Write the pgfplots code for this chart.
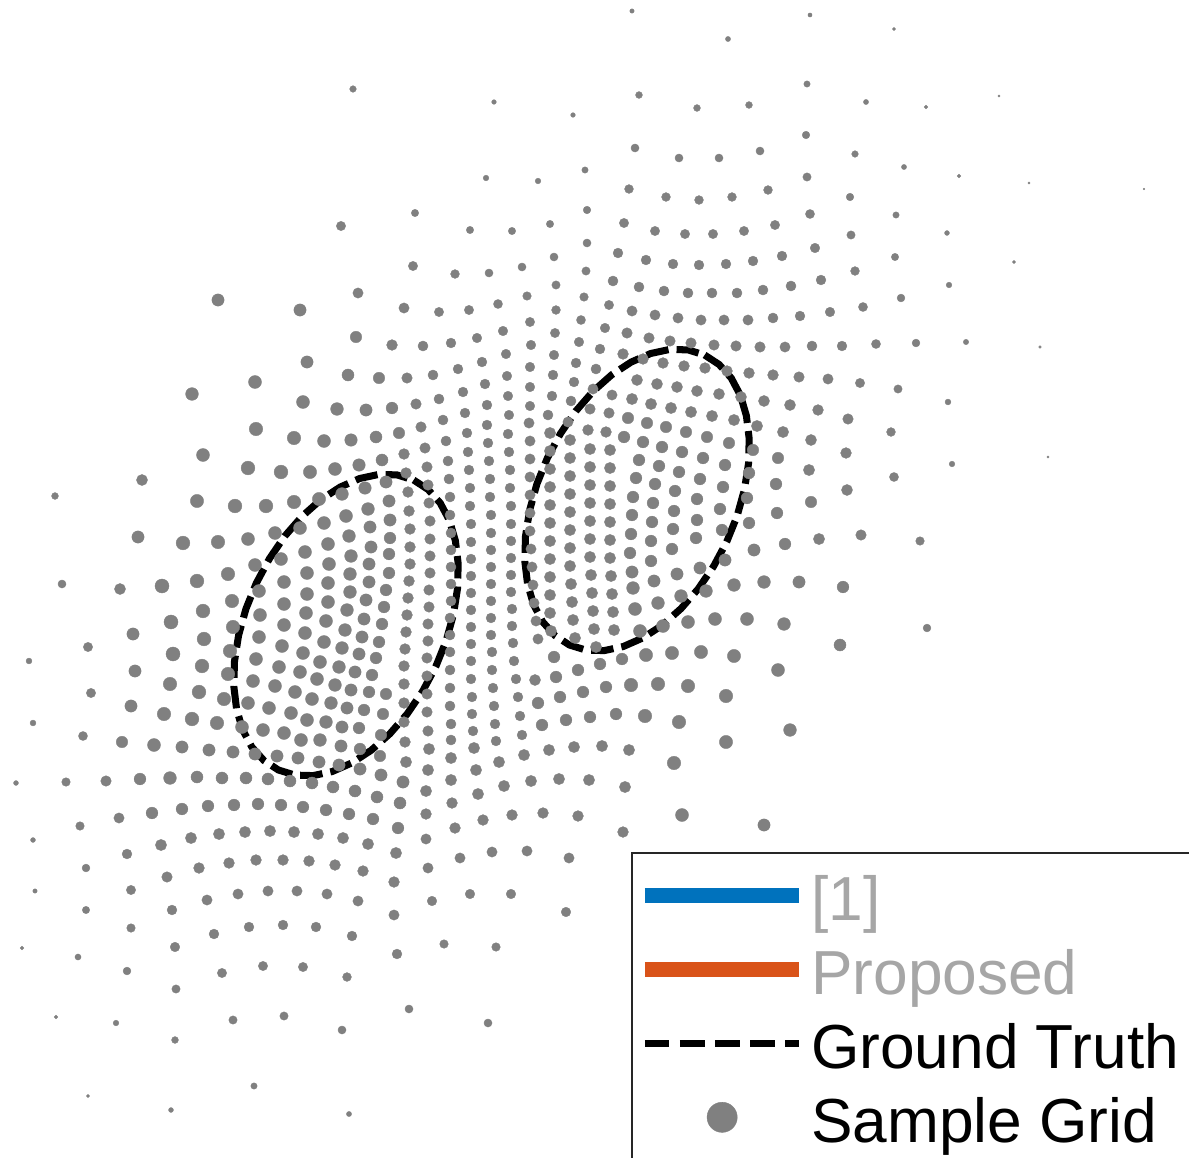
\documentclass[border=0pt]{standalone}
\usepackage{fontspec}
\setmainfont{Liberation Sans}
\usepackage{pgfplots}
\usepackage{pgfplotstable}
\pgfplotsset{compat=1.18}

\definecolor{dotgray}{RGB}{128,128,128}
\definecolor{mblue}{RGB}{0,114,189}
\definecolor{morange}{RGB}{217,83,25}
\definecolor{legtext}{RGB}{166,166,166}
\definecolor{legframe}{RGB}{38,38,38}

\pgfplotsset{
  linelegend/.style={legend image code/.code={\draw[##1] (0pt,0pt) -- (44pt,0pt);}},
  dotlegend/.style={legend image code/.code={\draw[mark repeat=2, mark phase=2, ##1]
    plot coordinates {(0pt,0pt) (22pt,0pt) (44pt,0pt)};}},
}

% sample grid: position (x, y) and dot radius r
\pgfplotstableread[row sep=\\]{
x y r\\
% upper left
353 89 2.7\\ 494 102 1.9\\ 573 115 1.9\\ 486 178 2.3\\ 538 181 2.3\\ 585 170 2.6\\
415 213 3.0\\ 341 226 3.8\\ 470 230 3.0\\ 512 231 3.0\\ 550 224 3.0\\ 587 210 3.1\\
587 243 3.3\\ 554 257 3.3\\ 413 266 3.8\\ 455 274 3.6\\ 489 273 3.3\\ 522 267 3.3\\
586 271 3.4\\ 556 285 3.4\\ 218 300 5.0\\ 358 293 4.2\\ 527 296 3.5\\ 584 297 3.5\\
142 480 4.5\\ 55 496 2.8\\ 138 537 5.0\\
% upper right
632 11 1.8\\ 810 15 1.7\\ 894 29 1.3\\ 728 39 2.1\\ 639 95 2.8\\ 807 84 2.6\\
866 102 2.1\\ 926 107 1.5\\ 999 96 1.0\\ 697 108 2.8\\ 749 105 2.8\\
635 148 3.3\\ 679 158 3.3\\ 719 158 3.3\\ 760 151 3.3\\ 806 135 3.1\\ 855 154 2.7\\
904 167 2.1\\ 959 176 1.5\\ 1029 183 1.0\\ 1144 189 0.7\\
629 189 3.6\\ 666 197 3.6\\ 699 200 3.6\\ 732 197 3.6\\ 768 190 3.6\\ 807 177 3.4\\
850 197 3.1\\ 896 215 2.6\\ 947 233 2.0\\ 1014 262 1.4\\
624 223 3.8\\ 655 231 3.8\\ 685 234 3.8\\ 713 234 3.8\\ 744 231 3.8\\ 775 225 3.8\\
810 214 3.7\\ 851 235 3.4\\ 895 257 3.0\\ 949 285 2.3\\
618 253 4.0\\ 646 260 4.0\\ 673 264 4.0\\ 699 265 4.0\\ 726 264 4.0\\ 753 261 4.0\\
782 256 4.0\\ 815 248 3.9\\ 855 271 3.6\\ 901 298 3.2\\
613 281 4.1\\ 639 287 4.1\\ 664 291 4.1\\ 688 293 4.1\\ 712 293 4.1\\ 737 293 4.1\\
763 290 4.1\\ 791 286 4.1\\ 821 280 4.0\\
863 307 3.7\\ 876 344 3.7\\ 916 343 3.2\\ 966 342 2.2\\ 1040 347 1.1\\
860 383 3.8\\ 898 389 3.4\\ 948 402 2.4\\ 891 432 3.6\\ 952 464 2.3\\ 1048 457 0.9\\
894 477 3.7\\ 920 541 3.5\\ 861 535 4.3\\
% left, above the first ellipse
300 310 5.0\\ 404 308 4.2\\ 356 337 4.7\\ 392 345 4.4\\ 307 362 5.0\\ 348 375 4.9\\
379 378 4.7\\ 255 382 5.3\\ 192 394 5.2\\ 303 402 5.3\\ 337 409 5.2\\ 366 410 5.0\\
392 408 4.8\\ 256 429 5.5\\ 294 438 5.5\\ 324 441 5.3\\ 351 440 5.1\\ 376 437 4.9\\
399 433 4.7\\ 203 455 5.3\\ 248 468 5.6\\ 281 472 5.6\\ 310 472 5.4\\ 335 469 5.3\\
359 465 5.1\\ 382 460 4.9\\ 197 501 5.4\\ 235 506 5.6\\ 266 506 5.6\\ 294 502 5.5\\
319 499 5.4\\ 342 494 5.2\\ 365 488 5.1\\ 386 482 5.0\\ 389 501 5.0\\ 368 509 5.2\\
346 516 5.3\\ 390 520 5.0\\
% upper centre
439 312 3.8\\ 469 310 3.8\\ 498 304 3.7\\ 556 310 3.6\\ 581 320 3.7\\ 609 305 3.8\\
530 322 3.8\\ 503 331 3.9\\ 477 338 3.9\\ 451 343 4.0\\ 423 346 4.1\\ 555 333 3.8\\
605 328 3.9\\ 579 342 3.9\\ 531 345 3.9\\ 506 354 3.9\\ 482 362 4.0\\ 458 369 4.0\\
433 375 4.1\\ 407 378 4.3\\ 554 355 3.9\\ 600 349 4.0\\ 576 363 4.0\\ 530 367 3.9\\
507 376 3.9\\ 485 384 4.0\\ 463 392 4.0\\ 439 399 4.1\\ 416 404 4.3\\ 553 375 4.0\\
596 369 4.1\\ 574 382 4.0\\ 530 387 3.9\\ 508 396 3.9\\ 487 405 4.0\\ 465 413 4.0\\
443 420 4.1\\ 421 427 4.3\\ 552 396 4.0\\ 593 389 4.2\\ 612 395 4.2\\ 571 401 4.1\\
530 406 3.9\\ 509 415 3.9\\ 487 425 4.0\\ 467 433 4.0\\ 446 441 4.1\\ 425 448 4.3\\
548 415 4.1\\ 590 409 4.3\\ 609 413 4.3\\ 568 422 4.2\\ 588 430 4.4\\ 606 432 4.4\\
% centre columns
404 454 4.4\\ 406 473 4.4\\ 408 492 4.4\\ 409 511 4.4\\ 410 529 4.4\\ 410 547 4.4\\
410 564 4.4\\ 409 581 4.4\\ 408 598 4.4\\ 407 615 4.4\\ 406 632 4.4\\ 405 649 4.4\\
404 666 4.4\\ 404 684 4.4\\ 404 703 4.4\\ 404 722 4.4\\ 405 742 4.4\\
427 467 4.3\\ 428 485 4.3\\ 429 503 4.3\\ 430 521 4.3\\ 430 539 4.3\\ 430 556 4.3\\
430 573 4.3\\ 429 590 4.3\\ 429 607 4.3\\ 428 624 4.3\\ 428 641 4.3\\ 427 658 4.3\\
427 676 4.3\\ 427 694 4.3\\ 427 712 4.3\\ 428 731 4.3\\
448 461 4.1\\ 449 479 4.1\\ 450 497 4.1\\ 450 515 4.1\\ 451 533 4.1\\ 451 550 4.1\\
451 567 4.1\\ 451 584 4.1\\ 451 601 4.1\\ 450 618 4.1\\ 450 635 4.1\\ 450 652 4.1\\
450 670 4.1\\ 450 688 4.1\\ 450 706 4.1\\ 451 724 4.1\\ 451 740 4.1\\
468 452 4.0\\ 469 470 4.0\\ 470 488 4.0\\ 470 506 4.0\\ 471 524 4.0\\ 471 542 4.0\\
471 559 4.0\\ 471 576 4.0\\ 471 593 4.0\\ 471 610 4.0\\ 471 627 4.0\\ 471 644 4.0\\
471 661 4.0\\ 471 679 4.0\\ 472 697 4.0\\ 472 714 4.0\\ 473 731 4.0\\
488 443 4.0\\ 489 461 4.0\\ 490 479 4.0\\ 490 497 4.0\\ 491 515 4.0\\ 491 533 4.0\\
491 550 4.0\\ 491 567 4.0\\ 491 584 4.0\\ 491 601 4.0\\ 491 618 4.0\\ 491 635 4.0\\
492 652 4.0\\ 492 670 4.0\\ 493 688 4.0\\ 494 706 4.0\\ 495 724 4.0\\ 496 741 4.0\\
508 434 4.0\\ 509 452 4.0\\ 510 470 4.0\\ 510 488 4.0\\ 511 506 4.0\\ 511 524 4.0\\
511 541 4.0\\ 511 558 4.0\\ 511 575 4.0\\ 511 592 4.0\\ 512 609 4.0\\ 512 626 4.0\\
513 643 4.0\\ 514 661 4.0\\ 516 679 4.0\\ 518 697 4.0\\ 520 716 4.0\\ 522 735 4.0\\
529 423 4.2\\ 530 441 4.2\\ 530 459 4.2\\ 530 477 4.2\\ 530 495 4.2\\ 530 513 4.2\\
530 531 4.2\\ 531 549 4.2\\ 532 567 4.2\\ 533 585 4.2\\ 534 603 4.2\\ 536 621 4.2\\
538 639 4.2\\ 535 680 4.5\\
% inside the second ellipse, lower left
550 433 4.6\\ 550 451 4.6\\ 550 469 4.6\\ 550 487 4.6\\ 550 505 4.6\\ 550 523 4.6\\
550 541 4.6\\ 550 559 4.6\\ 550 577 4.6\\ 550 595 4.6\\ 550 613 4.6\\ 551 631 4.6\\
570 440 4.6\\ 570 458 4.6\\ 570 476 4.6\\ 570 494 4.6\\ 570 512 4.6\\ 570 530 4.6\\
570 548 4.6\\ 570 566 4.6\\ 571 584 4.6\\ 572 602 4.6\\ 573 620 4.6\\ 575 638 4.6\\
590 449 4.6\\ 590 467 4.6\\ 590 485 4.6\\ 590 503 4.6\\ 590 521 4.6\\ 590 539 4.6\\
590 557 4.6\\ 591 575 4.6\\ 592 593 4.6\\ 593 611 4.6\\ 594 629 4.6\\ 596 647 4.6\\
610 450 4.6\\ 610 468 4.6\\ 610 486 4.6\\ 610 504 4.6\\ 610 522 4.6\\ 610 540 4.6\\
610 558 4.6\\ 611 576 4.6\\ 612 594 4.6\\ 613 612 4.6\\ 614 630 4.6\\
% below the second ellipse
554 657 4.8\\ 578 670 4.8\\ 600 664 4.8\\ 622 659 4.8\\ 556 677 4.8\\ 583 692 4.8\\
606 687 4.8\\ 538 703 4.8\\ 560 697 4.8\\ 566 720 4.8\\ 590 717 4.8\\ 616 714 4.8\\
542 725 4.8\\
% inside the first ellipse
183 543 5.6\\ 197 581 5.6\\ 203 611 5.6\\ 204 639 5.6\\ 202 666 5.6\\ 199 692 5.6\\ 192 719 5.6\\
218 542 5.5\\ 228 574 5.5\\ 232 601 5.5\\ 233 627 5.5\\ 230 651 5.5\\ 228 674 5.5\\
224 699 5.5\\ 217 723 5.5\\
248 539 5.3\\ 255 565 5.3\\ 259 591 5.3\\ 260 615 5.3\\ 259 637 5.3\\ 256 659 5.3\\
253 681 5.3\\ 248 703 5.3\\ 242 727 5.3\\
275 533 5.3\\ 281 559 5.3\\ 284 582 5.3\\ 284 604 5.3\\ 284 625 5.3\\ 282 646 5.3\\
279 667 5.3\\ 275 686 5.3\\ 269 708 5.3\\ 263 730 5.3\\
300 528 5.3\\ 305 552 5.3\\ 307 573 5.3\\ 307 594 5.3\\ 306 613 5.3\\ 305 633 5.3\\
303 653 5.3\\ 300 672 5.3\\ 295 692 5.3\\ 291 713 5.3\\ 284 733 5.3\\
324 523 5.3\\ 328 544 5.3\\ 329 564 5.3\\ 328 583 5.3\\ 328 602 5.3\\ 326 621 5.3\\
324 642 5.3\\ 320 662 5.3\\ 317 679 5.3\\ 312 699 5.3\\ 307 720 5.3\\ 301 740 5.3\\
349 536 5.2\\ 351 556 5.2\\ 350 574 5.2\\ 350 592 5.2\\ 347 610 5.2\\ 345 630 5.2\\
342 648 5.2\\ 339 667 5.2\\ 335 685 5.2\\ 331 703 5.2\\ 326 722 5.2\\ 320 740 5.2\\
370 527 5.0\\ 371 547 5.0\\ 369 564 5.0\\ 369 582 5.0\\ 366 600 5.0\\ 364 619 5.0\\
362 637 5.0\\ 359 654 5.0\\ 355 672 5.0\\ 351 690 5.0\\ 347 708 5.0\\ 342 727 5.0\\ 341 746 5.0\\
390 538 4.8\\ 389 554 4.8\\ 389 573 4.8\\ 386 590 4.8\\ 384 607 4.8\\ 382 624 4.8\\
379 642 4.8\\ 376 658 4.8\\ 372 675 4.8\\ 369 692 4.8\\ 364 710 4.8\\ 359 728 4.8\\ 360 749 4.8\\
386 694 4.7\\ 383 714 4.7\\ 381 735 4.7\\ 380 756 4.7\\
% lower left rows
182 747 5.0\\ 209 750 5.0\\ 233 752 5.0\\ 255 754 5.0\\ 277 756 5.0\\ 298 758 5.0\\
319 762 5.0\\ 339 765 5.0\\ 360 769 5.0\\ 381 775 5.0\\ 403 782 5.0\\
197 777 4.9\\ 222 778 4.9\\ 246 778 4.9\\ 268 779 4.9\\ 290 781 4.9\\ 312 783 4.9\\
333 787 4.9\\ 355 791 4.9\\ 377 797 4.9\\ 400 803 4.9\\
182 809 4.8\\ 208 806 4.8\\ 234 805 4.8\\ 258 804 4.8\\ 281 805 4.8\\ 303 807 4.8\\
326 810 4.8\\ 349 814 4.8\\ 373 819 4.8\\ 398 828 4.8\\
191 838 4.6\\ 219 834 4.6\\ 245 832 4.6\\ 270 831 4.6\\ 294 832 4.6\\ 318 834 4.6\\
343 838 4.6\\ 368 844 4.6\\ 396 853 4.6\\
199 868 4.4\\ 229 863 4.4\\ 256 860 4.4\\ 283 860 4.4\\ 309 861 4.4\\ 335 865 4.4\\
363 871 4.4\\ 394 882 4.4\\
207 900 4.2\\ 238 894 4.2\\ 268 891 4.2\\ 297 891 4.2\\ 327 894 4.2\\ 358 901 4.2\\ 394 915 4.2\\
214 934 4.0\\ 249 927 4.0\\ 283 925 4.0\\ 316 927 4.0\\ 352 936 4.0\\ 397 954 4.0\\
263 966 3.8\\ 303 967 3.8\\
% lower centre
429 749 4.6\\ 474 748 4.6\\ 406 762 4.6\\ 451 758 4.6\\ 499 762 4.6\\ 524 755 4.6\\
549 750 4.6\\ 574 747 4.6\\ 602 746 4.6\\ 629 750 4.6\\ 428 770 4.6\\ 476 770 4.6\\
451 780 4.6\\ 504 786 4.6\\ 531 781 4.6\\ 559 779 4.6\\ 589 780 4.6\\ 625 787 4.6\\
426 791 4.6\\ 478 794 4.6\\ 452 803 4.4\\ 426 814 4.4\\ 483 820 4.4\\ 512 815 4.4\\
543 813 4.4\\ 578 816 4.4\\ 623 832 4.4\\ 455 828 4.4\\ 426 839 4.2\\ 460 858 4.2\\
492 852 4.2\\ 527 851 4.2\\ 569 858 4.2\\ 428 868 4.2\\ 470 894 3.9\\ 511 894 3.9\\
432 901 3.9\\ 566 912 3.9\\ 444 944 3.5\\ 496 947 3.5\\
% inside the second ellipse
632 311 4.2\\ 655 315 4.2\\ 678 318 4.2\\ 701 320 4.2\\ 724 320 4.2\\ 748 320 4.2\\
773 318 4.1\\ 800 316 4.0\\ 830 312 3.9\\
627 333 4.3\\ 649 338 4.3\\ 670 341 4.3\\ 691 343 4.3\\ 714 345 4.3\\ 736 346 4.3\\
760 347 4.3\\ 785 347 4.2\\ 812 346 4.1\\ 842 346 4.0\\
623 354 4.4\\ 643 359 4.4\\ 663 363 4.4\\ 684 366 4.4\\ 705 368 4.4\\ 727 371 4.4\\
749 373 4.4\\ 773 375 4.4\\ 799 377 4.3\\ 828 379 4.2\\
637 380 4.5\\ 657 384 4.5\\ 677 387 4.5\\ 697 391 4.5\\ 719 394 4.5\\ 741 397 4.5\\
764 401 4.5\\ 790 405 4.5\\ 818 410 4.4\\ 848 419 4.3\\
632 399 4.6\\ 651 404 4.6\\ 671 408 4.6\\ 691 412 4.6\\ 712 416 4.6\\ 734 420 4.6\\
757 426 4.6\\ 783 432 4.6\\ 811 440 4.5\\ 846 453 4.4\\
628 418 4.7\\ 647 423 4.7\\ 666 427 4.7\\ 686 432 4.7\\ 707 437 4.7\\ 729 443 4.7\\
753 450 4.7\\ 778 458 4.7\\ 809 470 4.6\\ 847 490 4.5\\
624 437 4.8\\ 643 442 4.8\\ 662 447 4.8\\ 682 452 4.8\\ 703 458 4.8\\ 725 465 4.8\\
749 473 4.8\\ 776 484 4.8\\ 811 502 4.7\\
639 460 4.8\\ 659 466 4.8\\ 679 472 4.8\\ 700 479 4.8\\ 723 487 4.8\\ 747 498 4.8\\ 777 513 4.8\\
636 478 4.8\\ 655 484 4.8\\ 675 491 4.8\\ 697 499 4.8\\ 720 509 4.8\\ 749 523 4.8\\
633 497 4.8\\ 653 503 4.8\\ 674 511 4.8\\ 697 520 4.8\\ 722 530 4.8\\
632 515 4.8\\ 652 522 4.8\\ 673 529 4.8\\ 696 538 4.8\\
631 534 4.8\\ 651 541 4.8\\ 672 549 4.8\\ 630 553 4.8\\ 651 561 4.8\\
% right, below the second ellipse
632 572 5.0\\ 654 581 5.0\\ 677 574 5.0\\ 700 568 5.0\\ 725 560 5.0\\ 754 550 5.0\\
785 544 4.8\\ 819 539 4.6\\ 633 588 5.2\\ 658 603 5.2\\ 681 596 5.2\\ 706 591 5.2\\
734 585 5.2\\ 764 582 5.2\\ 799 582 5.0\\ 843 587 4.8\\ 635 609 5.3\\ 640 631 5.3\\
663 626 5.3\\ 688 622 5.3\\ 715 619 5.3\\ 747 619 5.3\\ 784 624 5.2\\ 840 645 4.9\\
927 628 3.2\\ 646 655 5.4\\ 672 653 5.4\\ 701 652 5.4\\ 734 656 5.4\\ 778 670 5.3\\
631 685 5.5\\ 658 684 5.5\\ 688 686 5.5\\ 726 696 5.5\\ 645 716 5.5\\ 679 722 5.5\\
726 742 5.4\\ 790 730 5.2\\ 674 763 5.5\\ 682 815 5.3\\ 764 825 5.0\\
% lower left periphery
62 584 3.3\\ 120 589 4.5\\ 162 586 5.7\\ 88 647 3.8\\ 29 661 2.4\\ 133 634 5.0\\
171 622 5.7\\ 135 671 5.0\\ 173 654 5.7\\ 91 693 3.8\\ 170 684 5.5\\ 131 706 5.0\\
33 723 2.4\\ 164 714 5.5\\ 83 736 3.7\\ 122 742 4.7\\ 154 745 5.3\\ 16 783 2.0\\
66 782 3.5\\ 106 781 4.3\\ 140 779 4.8\\ 170 778 5.2\\ 80 826 3.5\\ 119 818 4.2\\
152 813 4.8\\ 33 840 2.0\\ 127 854 4.0\\ 161 845 4.6\\ 86 868 3.2\\ 167 877 4.3\\
35 891 1.8\\ 131 890 3.8\\ 86 910 3.0\\ 172 910 4.0\\ 131 928 3.5\\ 22 948 1.5\\
78 957 2.5\\ 127 971 3.2\\ 175 947 3.9\\ 176 989 3.4\\ 222 973 3.8\\ 347 977 3.6\\
56 1017 1.6\\ 116 1023 2.3\\ 175 1040 2.8\\ 233 1020 3.4\\ 284 1016 3.4\\ 342 1030 3.3\\
409 1009 3.3\\ 488 1023 3.3\\ 88 1096 1.3\\ 171 1110 2.0\\ 254 1086 2.6\\ 349 1114 2.1\\
}\gridtable

% ground-truth outlines
\pgfplotstableread[row sep=\\]{
x y\\
413.6 480.0\\ 428.1 489.5\\ 440.2 503.0\\ 449.4 520.3\\ 455.4 540.8\\ 458.2 563.8\\
457.5 588.7\\ 453.4 614.7\\ 446.1 641.0\\ 435.7 666.8\\ 422.6 691.3\\ 407.2 713.9\\
389.9 733.7\\ 371.3 750.2\\ 351.9 762.9\\ 332.3 771.5\\ 313.2 775.6\\ 295.0 775.1\\
278.4 770.0\\ 263.9 760.5\\ 251.8 747.0\\ 242.6 729.7\\ 236.6 709.2\\ 233.8 686.2\\
234.5 661.3\\ 238.6 635.3\\ 245.9 609.0\\ 256.3 583.2\\ 269.4 558.7\\ 284.8 536.1\\
302.1 516.3\\ 320.7 499.8\\ 340.1 487.1\\ 359.7 478.5\\ 378.8 474.4\\ 397.0 474.9\\
413.6 480.0\\
}\ellA

\pgfplotstableread[row sep=\\]{
x y\\
704.6 355.0\\ 719.1 364.5\\ 731.2 378.0\\ 740.4 395.3\\ 746.4 415.8\\ 749.2 438.8\\
748.5 463.7\\ 744.4 489.7\\ 737.1 516.0\\ 726.7 541.8\\ 713.6 566.3\\ 698.2 588.9\\
680.9 608.7\\ 662.3 625.2\\ 642.9 637.9\\ 623.3 646.5\\ 604.2 650.6\\ 586.0 650.1\\
569.4 645.0\\ 554.9 635.5\\ 542.8 622.0\\ 533.6 604.7\\ 527.6 584.2\\ 524.8 561.2\\
525.5 536.3\\ 529.6 510.3\\ 536.9 484.0\\ 547.3 458.2\\ 560.4 433.7\\ 575.8 411.1\\
593.1 391.3\\ 611.7 374.8\\ 631.1 362.1\\ 650.7 353.5\\ 669.8 349.4\\ 688.0 349.9\\
704.6 355.0\\
}\ellB

\begin{document}
\begin{tikzpicture}
\useasboundingbox (0,0) rectangle (11.89cm,11.58cm);
\clip (0,0) rectangle (11.89cm,11.58cm);
\begin{axis}[
  at={(0,0)}, anchor=south west,
  scale only axis, width=11.89cm, height=11.58cm,
  xmin=0, xmax=1189, ymin=0, ymax=1158, y dir=reverse,
  hide axis,
  linelegend,
  legend cell align=left,
  legend style={at={(axis cs:630.5,851.5)}, anchor=north west,
    draw=legframe, line width=0.85pt, fill=white,
    inner xsep=1.5pt, inner ysep=3.3pt,
    row sep=3.2pt, column sep=1.2pt,
    font=\fontsize{17.7pt}{20pt}\selectfont,
    nodes={inner sep=0pt, text height=16pt, text depth=1.8pt}},
]
% each dot gets the radius of its own row (px -> pt)
\addplot[scatter, only marks, mark=*, color=dotgray, forget plot,
  point meta=\thisrow{r},
  mark options={fill=dotgray, draw=dotgray, line width=0.1pt},
  visualization depends on={\thisrow{r} \as \dotr},
  scatter/@pre marker code/.code={%
    \pgfmathsetlength{\pgfplotmarksize}{0.35*\dotr}%
    \pgfsetfillcolor{dotgray}\pgfsetstrokecolor{dotgray}},
  scatter/@post marker code/.code={}]
  table[x=x, y=y] {\gridtable};

\addplot[black, line width=2pt, dash pattern=on 6.4pt off 2.3pt, forget plot]
  table[x=x, y=y] {\ellA};
\addplot[black, line width=2pt, dash pattern=on 6.4pt off 2.3pt, forget plot]
  table[x=x, y=y] {\ellB};

\addlegendimage{mblue, line width=4.3pt}
\addlegendentry{\textcolor{legtext}{[1]}}
\addlegendimage{morange, line width=4.3pt}
\addlegendentry{\textcolor{legtext}{Proposed}}
\addlegendimage{black, line width=2pt, dash pattern=on 7pt off 3pt}
\addlegendentry{Ground Truth\hspace*{8pt}}
\addlegendimage{only marks, mark=*, mark size=4.3pt,
  mark options={fill=dotgray, draw=dotgray, line width=0.1pt}, dotlegend}
\addlegendentry{Sample Grid}
\end{axis}
\end{tikzpicture}
\end{document}
